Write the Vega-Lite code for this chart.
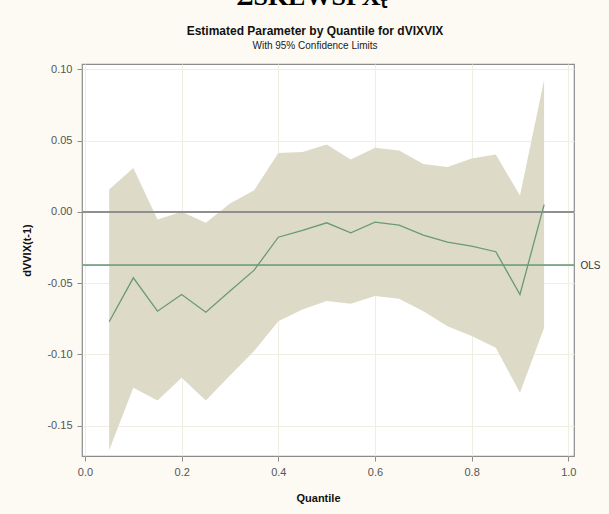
{
  "$schema": "https://vega.github.io/schema/vega-lite/v6.json",
  "width": 492,
  "height": 392,
  "autosize": "none",
  "padding": {"left": 82, "top": 64, "right": 35, "bottom": 58},
  "background": "#fcfaf3",
  "config": {
    "font": "Liberation Sans",
    "view": {"stroke": "#8c8c8c", "strokeWidth": 1.2, "fill": "white"}
  },
  "title": {
    "text": "Estimated Parameter by Quantile for dVIXVIX",
    "subtitle": "With 95% Confidence Limits",
    "anchor": "middle",
    "frame": "group",
    "dx": -13,
    "offset": -69,
    "font": "Liberation Sans",
    "fontSize": 12,
    "fontWeight": "bold",
    "color": "#111111",
    "subtitleFont": "Liberation Sans",
    "subtitleFontSize": 10,
    "subtitleColor": "#222222",
    "subtitlePadding": 3
  },
  "data": {
    "values": [
      {"q": 0.05, "upper": 0.0156, "est": -0.0771, "lower": -0.1673},
      {"q": 0.10, "upper": 0.0308, "est": -0.0463, "lower": -0.1234},
      {"q": 0.15, "upper": -0.0054, "est": -0.0697, "lower": -0.1323},
      {"q": 0.20, "upper": 0.0000, "est": -0.0580, "lower": -0.1164},
      {"q": 0.25, "upper": -0.0077, "est": -0.0704, "lower": -0.1323},
      {"q": 0.30, "upper": 0.0058, "est": -0.0556, "lower": -0.1148},
      {"q": 0.35, "upper": 0.0151, "est": -0.0409, "lower": -0.0977},
      {"q": 0.40, "upper": 0.0413, "est": -0.0178, "lower": -0.0767},
      {"q": 0.45, "upper": 0.0420, "est": -0.0131, "lower": -0.0685},
      {"q": 0.50, "upper": 0.0472, "est": -0.0077, "lower": -0.0626},
      {"q": 0.55, "upper": 0.0367, "est": -0.0147, "lower": -0.0645},
      {"q": 0.60, "upper": 0.0449, "est": -0.0073, "lower": -0.0591},
      {"q": 0.65, "upper": 0.0430, "est": -0.0094, "lower": -0.0610},
      {"q": 0.70, "upper": 0.0336, "est": -0.0164, "lower": -0.0697},
      {"q": 0.75, "upper": 0.0315, "est": -0.0213, "lower": -0.0802},
      {"q": 0.80, "upper": 0.0374, "est": -0.0241, "lower": -0.0872},
      {"q": 0.85, "upper": 0.0402, "est": -0.0280, "lower": -0.0953},
      {"q": 0.90, "upper": 0.0114, "est": -0.0580, "lower": -0.1269},
      {"q": 0.95, "upper": 0.0927, "est": 0.0051, "lower": -0.0813}
    ]
  },
  "resolve": {"axis": {"x": "independent", "y": "independent"}},
  "layer": [
    {
      "mark": {"type": "area", "color": "#dddbc8", "opacity": 1},
      "encoding": {
        "x": {
          "field": "q", "type": "quantitative",
          "scale": {"domain": [-0.0062, 1.0118], "nice": false, "zero": false},
          "axis": {
            "orient": "bottom",
            "values": [0, 0.2, 0.4, 0.6, 0.8, 1.0],
            "format": ".1f",
            "title": "Quantile",
            "titleFont": "Liberation Sans",
            "titleFontSize": 11,
            "titleFontWeight": "bold",
            "titleColor": "#111111",
            "titleX": 236,
            "titleY": 42,
            "titleAlign": "center",
            "titleBaseline": "middle",
            "labelFontSize": 11,
            "labelColor": "#555555",
            "labelPadding": 5,
            "tickColor": "#8c8c8c",
            "tickSize": 5,
            "domain": false,
            "grid": true,
            "gridColor": "#efeee3"
          }
        },
        "y": {
          "field": "lower", "type": "quantitative",
          "scale": {"domain": [-0.1713, 0.1037], "nice": false, "zero": false},
          "axis": {
            "orient": "left",
            "values": [-0.15, -0.1, -0.05, 0, 0.05, 0.1],
            "format": ".2f",
            "labelExpr": "replace(datum.label, '−', '-')",
            "title": "dVVIX(t-1)",
            "titleFont": "Liberation Sans",
            "titleFontSize": 11,
            "titleFontWeight": "bold",
            "titleColor": "#111111",
            "titleAngle": -90,
            "titleX": -55,
            "titleY": 186,
            "titleAlign": "center",
            "titleBaseline": "middle",
            "labelFontSize": 11,
            "labelColor": "#555555",
            "labelPadding": 5,
            "tickColor": "#8c8c8c",
            "tickSize": 5,
            "domain": false,
            "grid": true,
            "gridColor": "#efeee3"
          }
        },
        "y2": {"field": "upper"}
      }
    },
    {
      "mark": {"type": "rule", "color": "#8f8f8f", "strokeWidth": 1},
      "encoding": {"y": {"datum": 0, "axis": null}}
    },
    {
      "mark": {"type": "rule", "color": "#7ea784", "strokeWidth": 1},
      "encoding": {
        "y": {
          "datum": -0.0376,
          "axis": {
            "orient": "right",
            "values": [-0.0376],
            "labelExpr": "'OLS'",
            "labelFontSize": 10,
            "labelColor": "#333333",
            "labelPadding": 6,
            "ticks": false,
            "domain": false,
            "grid": false,
            "title": null
          }
        }
      }
    },
    {
      "mark": {"type": "line", "color": "#6a9a70", "strokeWidth": 1.3},
      "encoding": {
        "x": {
          "field": "q", "type": "quantitative",
          "axis": {
            "orient": "top",
            "labels": false,
            "ticks": false,
            "domain": false,
            "grid": false,
            "title": "ΣSKEWSPXₜ",
            "titleFont": "Liberation Serif",
            "titleFontSize": 26,
            "titleFontWeight": "bold",
            "titleColor": "#000000",
            "titleX": 229,
            "titleY": -60,
            "titleAlign": "center",
            "titleBaseline": "alphabetic"
          }
        },
        "y": {"field": "est", "type": "quantitative", "axis": null}
      }
    }
  ]
}
